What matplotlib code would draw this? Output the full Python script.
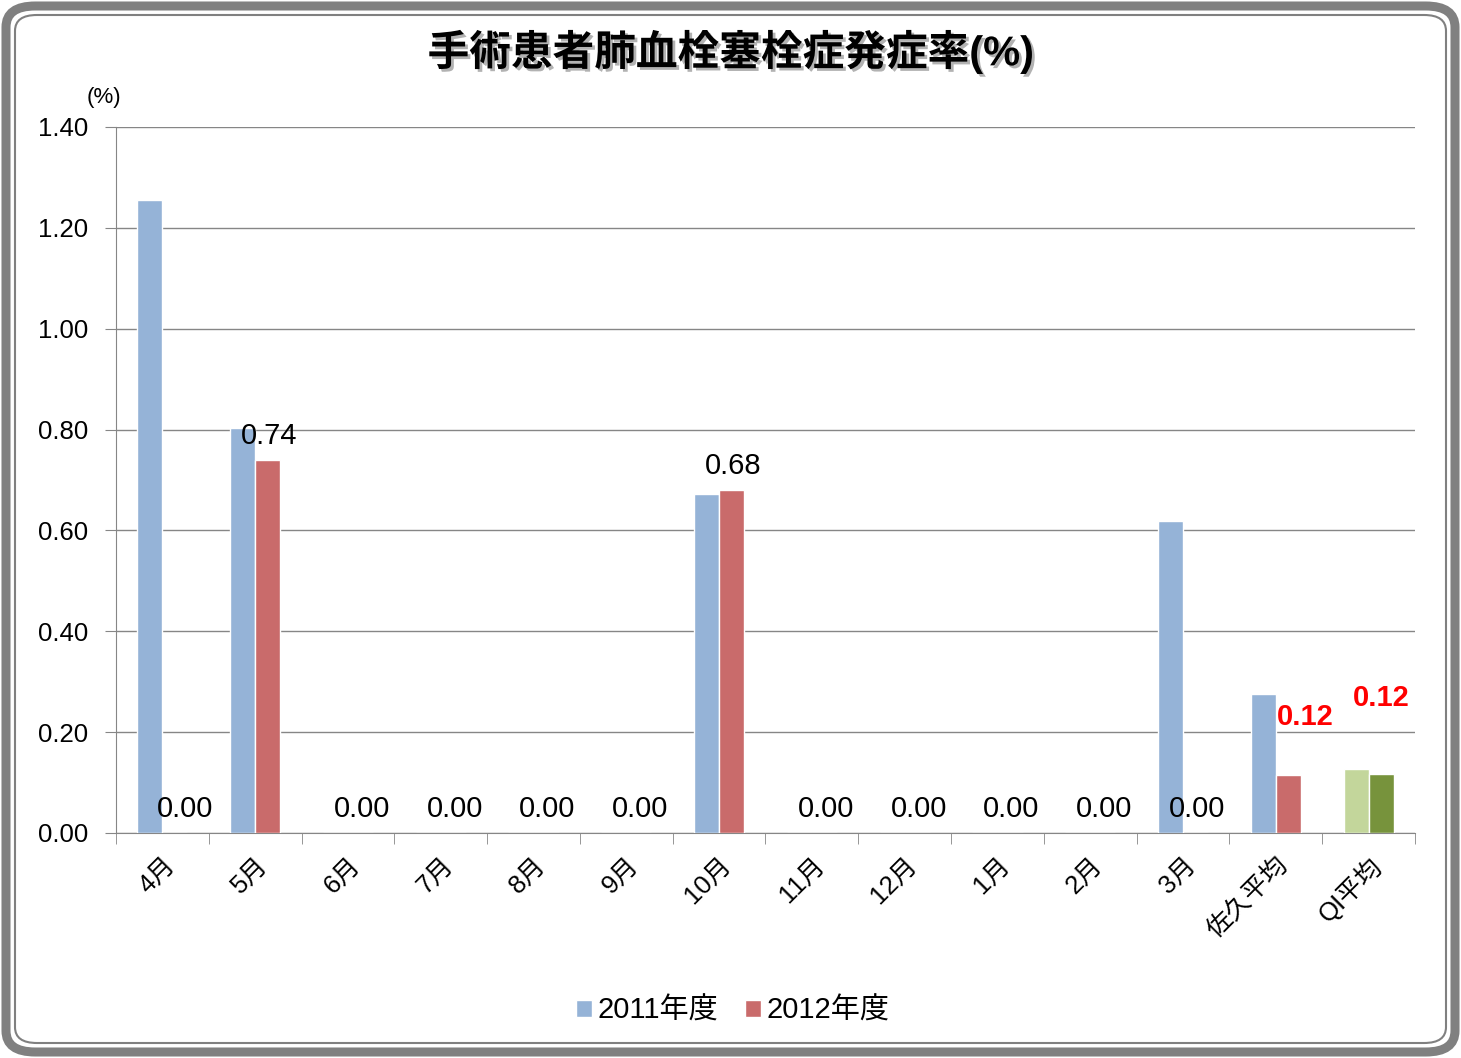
import matplotlib
matplotlib.use("Agg")
import matplotlib.pyplot as plt
import matplotlib.patheffects as pe
from matplotlib.patches import FancyBboxPatch
import numpy as np

plt.rcParams['font.family'] = ['Liberation Sans', 'Noto Sans CJK JP', 'DejaVu Sans']

categories = ["4月", "5月", "6月", "7月", "8月", "9月", "10月", "11月", "12月",
              "1月", "2月", "3月", "佐久平均", "QI平均"]
fy2011 = [1.255, 0.803, 0, 0, 0, 0, 0.672, 0, 0, 0, 0, 0.619, 0.276]
fy2012 = [0.00, 0.74, 0.00, 0.00, 0.00, 0.00, 0.68, 0.00, 0.00, 0.00, 0.00, 0.00, 0.115]
qi_avg = [0.127, 0.117]
label_2012 = ["0.00", "0.74", "0.00", "0.00", "0.00", "0.00", "0.68",
              "0.00", "0.00", "0.00", "0.00", "0.00"]
avg_labels = ["0.12", "0.12"]

c_blue = "#95B3D7"
c_red = "#C96B6B"
c_lgreen = "#C3D69B"
c_dgreen = "#77933C"

fig = plt.figure(figsize=(14.61, 10.58), dpi=100)
ax = fig.add_axes([0.0794, 0.2127, 0.8891, 0.6673])

x = np.arange(len(categories))
w = 0.27
ax.bar(x[:13] - w / 2, fy2011, w, color=c_blue, edgecolor="white", linewidth=1,
       label="2011年度", zorder=3)
ax.bar(x[:13] + w / 2, fy2012, w, color=c_red, edgecolor="white", linewidth=1,
       label="2012年度", zorder=3)
ax.bar(x[13] - w / 2, qi_avg[0], w, color=c_lgreen, edgecolor="white", linewidth=1, zorder=3)
ax.bar(x[13] + w / 2, qi_avg[1], w, color=c_dgreen, edgecolor="white", linewidth=1, zorder=3)

for i, (v, t) in enumerate(zip(fy2012[:12], label_2012)):
    dx = 7 if i == 0 else 1
    ax.annotate(t, (x[i] + w / 2, v), xytext=(dx, 17), textcoords="offset points",
                ha="center", va="center", fontsize=21, zorder=5)

ax.annotate(avg_labels[0], (x[12] + w / 2, fy2012[12]), xytext=(12, 42),
            textcoords="offset points", ha="center", va="center",
            fontsize=21, color="red", fontweight="bold", zorder=5)
ax.annotate(avg_labels[1], (x[13] + w / 2, qi_avg[1]), xytext=(0, 55),
            textcoords="offset points", ha="center", va="center",
            fontsize=21, color="red", fontweight="bold", zorder=5)

ax.set_xlim(-0.5, len(categories) - 0.5)
ax.set_ylim(0, 1.4)
ax.set_yticks(np.arange(0, 1.41, 0.2))
ax.set_yticklabels([f"{v:.2f}" for v in np.arange(0, 1.41, 0.2)], fontsize=18.5)
ax.yaxis.grid(True, color="#868686", linewidth=1, zorder=0)
ax.tick_params(axis="y", length=8, color="#868686", pad=12)

ax.set_xticks(x)
ax.set_xticklabels(categories, fontsize=18.5, rotation=45, ha="right", va="top",
                   rotation_mode="anchor")
ax.tick_params(axis="x", which="major", length=0, pad=14)
ax.set_xticks(np.arange(-0.5, len(categories), 1), minor=True)
ax.tick_params(axis="x", which="minor", length=8, color="#868686")

for s in ["top", "right"]:
    ax.spines[s].set_visible(False)
for s in ["left", "bottom"]:
    ax.spines[s].set_color("#868686")

fig.text(0.5, 1 - 52 / 1058, "手術患者肺血栓塞栓症発症率(%)", ha="center", va="center",
         fontsize=30, fontweight="bold",
         path_effects=[pe.withSimplePatchShadow(offset=(2, -2), shadow_rgbFace="gray", alpha=0.6)])
fig.text(104 / 1461, 1 - 97 / 1058, "(%)", ha="center", va="center", fontsize=16)

fig.legend(loc="center", bbox_to_anchor=(733 / 1461, 1 - 1011 / 1058), ncol=2, frameon=False,
           fontsize=21, handlelength=0.55, handleheight=0.55, handletextpad=0.2,
           columnspacing=0.9)

fig.patches.append(FancyBboxPatch((6 / 1461, 6 / 1058), 1449 / 1461, 1046 / 1058,
                                  boxstyle="round,pad=0,rounding_size=0.02",
                                  transform=fig.transFigure, fill=False,
                                  edgecolor="#808080", linewidth=6.5))
fig.patches.append(FancyBboxPatch((15 / 1461, 15 / 1058), 1431 / 1461, 1028 / 1058,
                                  boxstyle="round,pad=0,rounding_size=0.015",
                                  transform=fig.transFigure, fill=False,
                                  edgecolor="#808080", linewidth=1.5))

fig.savefig("out.png", dpi=100)
